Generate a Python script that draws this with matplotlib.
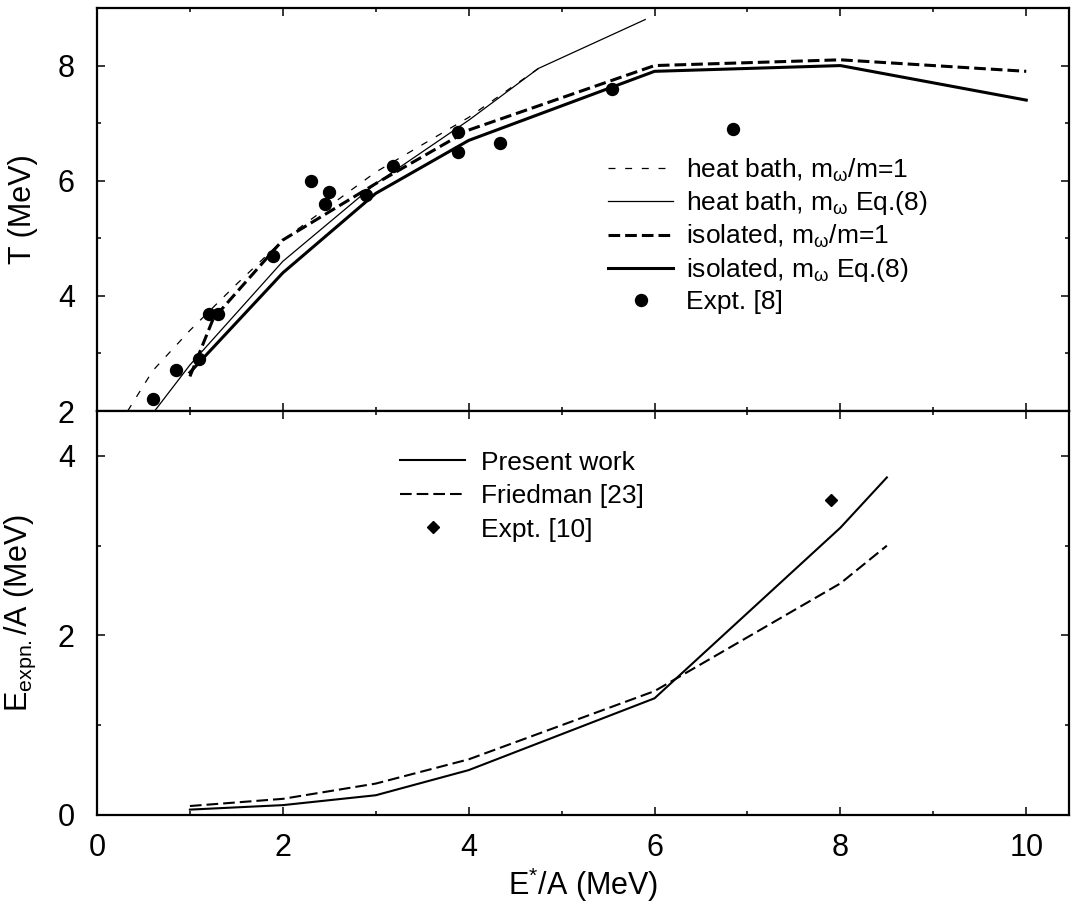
import matplotlib
matplotlib.use('Agg')
import matplotlib.pyplot as plt
from matplotlib.legend_handler import HandlerLine2D
from matplotlib.ticker import MultipleLocator

plt.rcParams['font.family'] = ['Liberation Sans', 'DejaVu Sans']
plt.rcParams['mathtext.fontset'] = 'custom'
plt.rcParams['mathtext.rm'] = 'Liberation Sans'
plt.rcParams['mathtext.it'] = 'Liberation Sans:italic'
plt.rcParams['mathtext.bf'] = 'Liberation Sans:bold'
plt.rcParams['lines.scale_dashes'] = False

# ---------------- top panel: T vs E*/A ----------------
hb1_x = [0.33, 0.6, 1.0, 1.5, 2.0, 3.0, 4.0, 4.75]
hb1_T = [2.0, 2.7, 3.4, 4.2, 4.97, 6.15, 7.1, 7.95]
hb8_x = [0.62, 1.0, 2.0, 3.0, 4.0, 4.75, 5.9]
hb8_T = [2.0, 2.8, 4.6, 5.95, 7.05, 7.95, 8.8]
iso1_x = [1.0, 1.25, 2.0, 3.0, 4.0, 6.0, 8.0, 10.0]
iso1_T = [2.6, 3.6, 4.97, 5.95, 6.88, 8.0, 8.1, 7.9]
iso8_x = [1.0, 2.0, 3.0, 4.0, 6.0, 8.0, 10.0]
iso8_T = [2.67, 4.4, 5.78, 6.7, 7.9, 8.0, 7.4]
expt8_x = [0.60, 0.85, 1.10, 1.20, 1.30, 1.89, 2.30, 2.45, 2.50, 2.90, 3.19,
           3.89, 3.89, 4.34, 5.54, 6.84]
expt8_T = [2.20, 2.71, 2.90, 3.69, 3.69, 4.70, 6.00, 5.59, 5.80, 5.75, 6.25,
           6.85, 6.50, 6.65, 7.60, 6.90]

# ---------------- bottom panel: E_expn/A vs E*/A ----------------
present_x = [1.0, 2.0, 3.0, 4.0, 6.0, 8.0, 8.5]
present_E = [0.06, 0.11, 0.22, 0.50, 1.30, 3.20, 3.76]
fried_x = [1.0, 2.0, 3.0, 4.0, 6.0, 8.0, 8.5]
fried_E = [0.10, 0.18, 0.35, 0.62, 1.38, 2.58, 3.0]
expt10_x = [7.9]
expt10_E = [3.51]

top_labels = ['heat bath, m$_{\\mathrm{\\omega}}$/m=1',
              'heat bath, m$_{\\mathrm{\\omega}}$ Eq.(8)',
              'isolated, m$_{\\mathrm{\\omega}}$/m=1',
              'isolated, m$_{\\mathrm{\\omega}}$ Eq.(8)',
              'Expt. [8]']
bot_labels = ['Present work', 'Friedman [23]', 'Expt. [10]']


class EndMarker(HandlerLine2D):
    def get_xdata(self, legend, xdescent, ydescent, width, height, fontsize):
        return [-xdescent, -xdescent + width], [-xdescent + width - 0.3 * fontsize]


W, H = 1073, 916
fig = plt.figure(figsize=(W / 100, H / 100), dpi=100)
L, R = 97 / W, 1069 / W
ax1 = fig.add_axes([L, 1 - 411 / H, R - L, (411 - 8) / H])
ax2 = fig.add_axes([L, 1 - 815 / H, R - L, (815 - 411) / H], sharex=ax1)

thin_dash = (0, (5, 7))
thick_dash = (0, (8.4, 3.6))

h1, = ax1.plot(hb1_x, hb1_T, color='k', lw=0.9, linestyle=thin_dash)
h2, = ax1.plot(hb8_x, hb8_T, color='k', lw=0.9)
h3, = ax1.plot(iso1_x, iso1_T, color='k', lw=2.2, linestyle=thick_dash)
h4, = ax1.plot(iso8_x, iso8_T, color='k', lw=2.2)
h5, = ax1.plot(expt8_x, expt8_T, 'o', color='k', ms=8.6, linestyle='none')

ax1.legend([h1, h2, h3, h4, h5], top_labels, loc='upper left',
           bbox_to_anchor=(0.526, 0.632), frameon=False, fontsize=19,
           handlelength=2.45, handletextpad=0.5, labelspacing=0.22,
           borderpad=0, borderaxespad=0, handler_map={h5: EndMarker()})

g1, = ax2.plot(present_x, present_E, color='k', lw=1.5)
g2, = ax2.plot(fried_x, fried_E, color='k', lw=1.5, linestyle=thick_dash)
g3, = ax2.plot(expt10_x, expt10_E, 'D', color='k', ms=6.5, linestyle='none')
ax2.legend([g1, g2, g3], bot_labels, loc='upper left',
           bbox_to_anchor=(0.312, 0.902), frameon=False, fontsize=19,
           handlelength=2.45, handletextpad=0.6, labelspacing=0.36,
           borderpad=0, borderaxespad=0, handler_map={g3: EndMarker()})

ax1.set_xlim(0, 10.46)
ax1.set_ylim(2, 9)
ax2.set_ylim(0, 4.5)

for ax in (ax1, ax2):
    ax.xaxis.set_major_locator(MultipleLocator(2))
    ax.xaxis.set_minor_locator(MultipleLocator(1))
    ax.yaxis.set_minor_locator(MultipleLocator(1))
    ax.yaxis.set_major_locator(MultipleLocator(2))
    ax.tick_params(which='both', direction='in', top=True, right=True,
                   width=1.1, labelsize=22)
    ax.tick_params(which='major', length=5.8)
    ax.tick_params(which='minor', length=2.9)
    ax.tick_params(axis='y', pad=16)
    ax.tick_params(axis='x', pad=13)
    for s in ax.spines.values():
        s.set_linewidth(1.6)

ax1.tick_params(labelbottom=False)
ax1.set_yticks([2, 4, 6, 8])
ax2.set_yticks([0, 2, 4])

ax1.set_ylabel('T (MeV)', fontsize=22, labelpad=14)
ax2.set_ylabel('E$_{\\mathrm{expn.}}$/A (MeV)', fontsize=22, labelpad=14)
ax2.set_xlabel('E$^{*}$/A (MeV)', fontsize=22, labelpad=2)
fig.align_ylabels([ax1, ax2])

fig.savefig('out.png', dpi=100)
